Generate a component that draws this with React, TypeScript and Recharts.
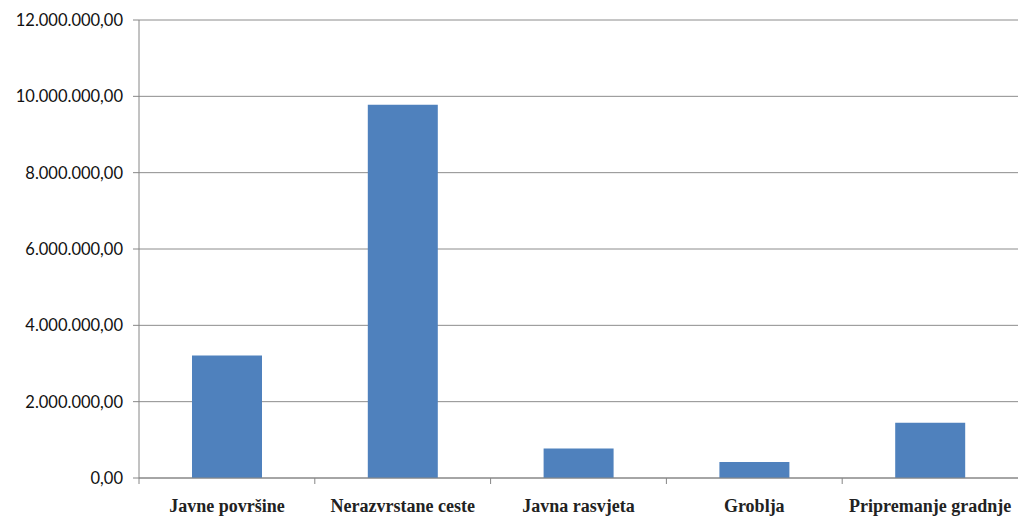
import React from "react";
import { BarChart, Bar, XAxis, YAxis, CartesianGrid } from "recharts";

const categories = [
  "Javne površine",
  "Nerazvrstane ceste",
  "Javna rasvjeta",
  "Groblja",
  "Pripremanje gradnje",
];
const amounts = [3210000, 9780000, 770000, 420000, 1450000];
const yTicks = [0, 2000000, 4000000, 6000000, 8000000, 10000000, 12000000];

const data = categories.map((name, i) => ({ name, amount: amounts[i] }));

const W = 1018;
const H = 520;
const LEFT = 139;
const RIGHT = 0;
const BAND = (W - LEFT - RIGHT) / categories.length;

const fmt = (v: number) =>
  v.toLocaleString("de-DE", { minimumFractionDigits: 2, maximumFractionDigits: 2 });

function CategoryTick(props: any) {
  const { x, y, payload } = props;
  return (
    <g>
      <line x1={x - BAND / 2} x2={x - BAND / 2} y1={y - 8} y2={y - 2} stroke="#868686" />
      <text
        x={x}
        y={y + 26}
        textAnchor="middle"
        fontFamily="'Liberation Serif', serif"
        fontWeight="bold"
        fontSize={18}
        fill="#222"
      >
        {payload.value}
      </text>
    </g>
  );
}

export default function App() {
  return (
    <div style={{ position: "absolute", left: 0, top: 0, background: "#fff" }}>
      <BarChart
        width={W}
        height={H}
        data={data}
        margin={{ top: 20, right: RIGHT, bottom: 12, left: 0 }}
        barCategoryGap="30%"
      >
        <CartesianGrid vertical={false} stroke="#8c8c8c" strokeWidth={1} />
        <XAxis
          dataKey="name"
          height={30}
          axisLine={{ stroke: "#868686" }}
          tickLine={false}
          tick={<CategoryTick />}
          interval={0}
        />
        <YAxis
          width={LEFT}
          domain={[0, 12000000]}
          ticks={yTicks}
          tickFormatter={fmt}
          axisLine={{ stroke: "#868686" }}
          tickLine={{ stroke: "#868686" }}
          tickSize={6}
          tick={{ fill: "#111", fontSize: 16.5, fontFamily: "Lato, 'Open Sans', sans-serif" }}
          tickMargin={10}
        />
        <Bar dataKey="amount" fill="#4F81BD" barSize={70} isAnimationActive={false} />
      </BarChart>
    </div>
  );
}
